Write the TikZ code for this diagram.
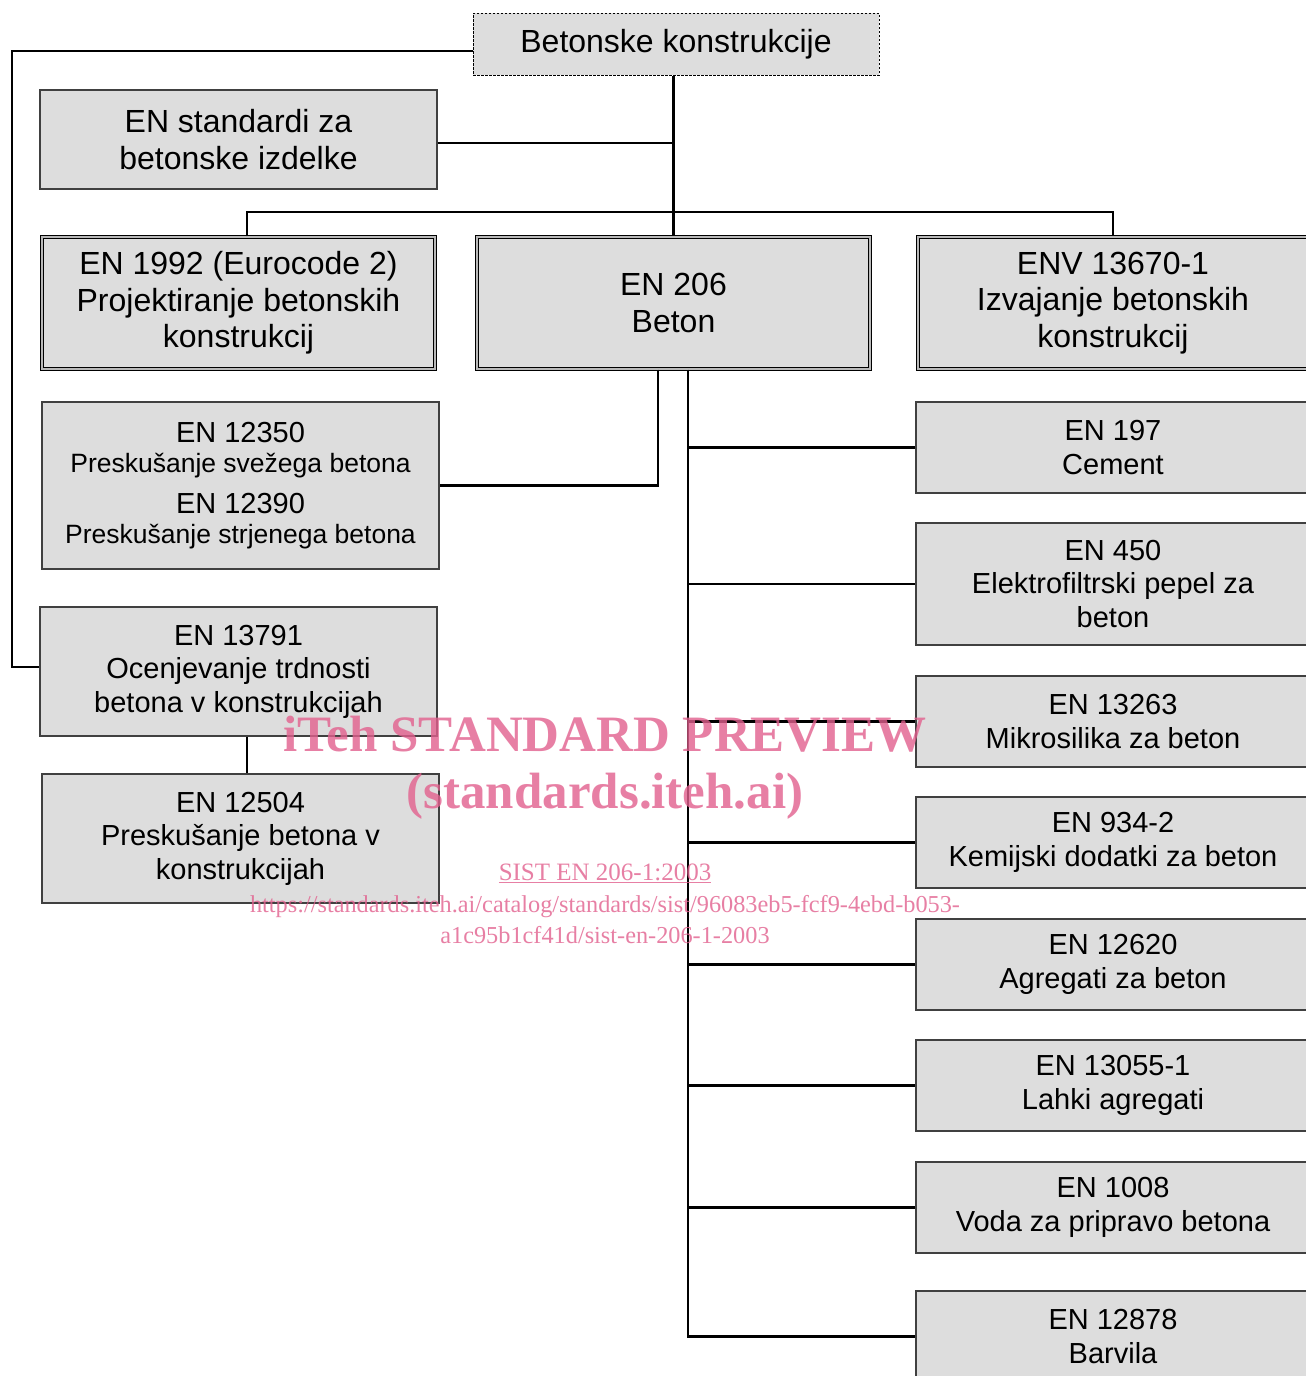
\documentclass[tikz,border=0pt]{standalone}
\usepackage{fontspec}
\setmainfont{Liberation Sans}
\newfontfamily\wmfont{Liberation Serif}
\definecolor{boxgray}{HTML}{DDDDDD}
\definecolor{wmpink}{HTML}{E2608E}
\begin{document}
\begin{tikzpicture}[x=1pt,y=-1pt,
  box/.style={draw=black!75, line width=1.2pt, fill=boxgray, inner sep=0pt, align=center,
              font=\fontsize{29}{33.5}\selectfont},
  bigbox/.style={box, font=\fontsize{32}{36.5}\selectfont},
  dblbox/.style={bigbox, draw=black, line width=1.4pt, double=gray!55, double distance=1.6pt},
  topbox/.style={bigbox, draw=black, line width=1pt, dash pattern=on 2.5pt off 1.5pt},
  conn/.style={draw=black, line width=2.1pt},
  wm/.style={text=wmpink, text opacity=0.8, inner sep=0pt, anchor=base}
]
\fill[white] (0,0) rectangle (1306,1376);
\clip (0,0) rectangle (1306,1376);

% top row
\node[topbox, minimum width=406, minimum height=62] (top) at (676,44) {Betonske konstrukcije};
\node[bigbox, minimum width=397, minimum height=99] (std) at (238.5,139.5) {EN standardi za\\betonske izdelke};
\node[dblbox, minimum width=393, minimum height=132] (en1992) at (238.5,303) {EN 1992 (Eurocode 2)\\Projektiranje betonskih\\konstrukcij};
\node[dblbox, minimum width=393, minimum height=132] (en206) at (673.5,303) {EN 206\\Beton};
\node[dblbox, minimum width=390, minimum height=132] (env) at (1113,303) {ENV 13670-1\\Izvajanje betonskih\\konstrukcij};

% left column
\node[box, minimum width=397, minimum height=167] (en12350) at (240.5,485.5)
  {EN 12350\\[-3pt]{\fontsize{26.5}{33}\selectfont Preskušanje svežega betona}\\[7pt]EN 12390\\[-3pt]{\fontsize{26.5}{33}\selectfont Preskušanje strjenega betona}};
\node[box, minimum width=397, minimum height=129] (en13791) at (238.5,671.5) {EN 13791\\Ocenjevanje trdnosti\\betona v konstrukcijah};
\node[box, minimum width=397, minimum height=129] (en12504) at (240.5,838.5) {EN 12504\\Preskušanje betona v\\konstrukcijah};

% right column
\node[box, minimum width=394, minimum height=91] (en197) at (1113,447.5) {EN 197\\Cement};
\node[box, minimum width=394, minimum height=122] (en450) at (1113,584) {EN 450\\Elektrofiltrski pepel za\\beton};
\node[box, minimum width=394, minimum height=91] (en13263) at (1113,721.5) {EN 13263\\Mikrosilika za beton};
\node[box, minimum width=394, minimum height=91] (en934) at (1113,842.5) {EN 934-2\\Kemijski dodatki za beton};
\node[box, minimum width=394, minimum height=91] (en12620) at (1113,964.5) {EN 12620\\Agregati za beton};
\node[box, minimum width=394, minimum height=91] (en13055) at (1113,1085.5) {EN 13055-1\\Lahki agregati};
\node[box, minimum width=394, minimum height=91] (en1008) at (1113,1207.5) {EN 1008\\Voda za pripravo betona};
\node[box, minimum width=394, minimum height=91] (en12878) at (1113,1336.5) {EN 12878\\Barvila};

% junction coordinates
\coordinate (jl) at (247,212);
\coordinate (jr) at (1113,212);
\coordinate (jc) at (673.5,212);
\coordinate (lv) at (12,51);
\coordinate (tr) at (688,1336.5);
\coordinate (tl) at (658,371);

% connectors
\draw[conn] (top.west |- lv) -- (lv) -- (lv |- 0,667) -- (en13791.west |- 0,667);
\draw[conn] (top.south -| jc) -- (en206.north);
\draw[conn] (std.east |- 0,143) -- (jc |- 0,143);
\draw[conn] (en1992.north -| jl) -- (jl) -- (jr) -- (env.north);
\draw[conn] (en206.south -| tl) |- (en12350.east);
\draw[conn] (en206.south -| tr) -- (tr) -- (en12878.west);
\foreach \n in {en197,en450,en13263,en934,en12620,en13055,en1008}
  \draw[conn] (tr |- \n.west) -- (\n.west);
\draw[conn] (en13791.south -| jl) -- (en12504.north -| jl);

% watermark
\node[wm, font=\wmfont\bfseries\fontsize{51}{51}\selectfont] (wm1) at (605,751) {iTeh STANDARD PREVIEW};
\node[wm, font=\wmfont\bfseries\fontsize{51}{51}\selectfont] (wm2) at (605,808) {(standards.iteh.ai)};
\node[wm, font=\wmfont\fontsize{25}{25}\selectfont] (wm3) at (605,880) {\underline{SIST EN 206-1:2003}};
\node[wm, font=\wmfont\fontsize{24.3}{25}\selectfont] (wm4) at (605,912) {https://standards.iteh.ai/catalog/standards/sist/96083eb5-fcf9-4ebd-b053-};
\node[wm, font=\wmfont\fontsize{24.3}{25}\selectfont] (wm5) at (605,943) {a1c95b1cf41d/sist-en-206-1-2003};
\end{tikzpicture}
\end{document}
